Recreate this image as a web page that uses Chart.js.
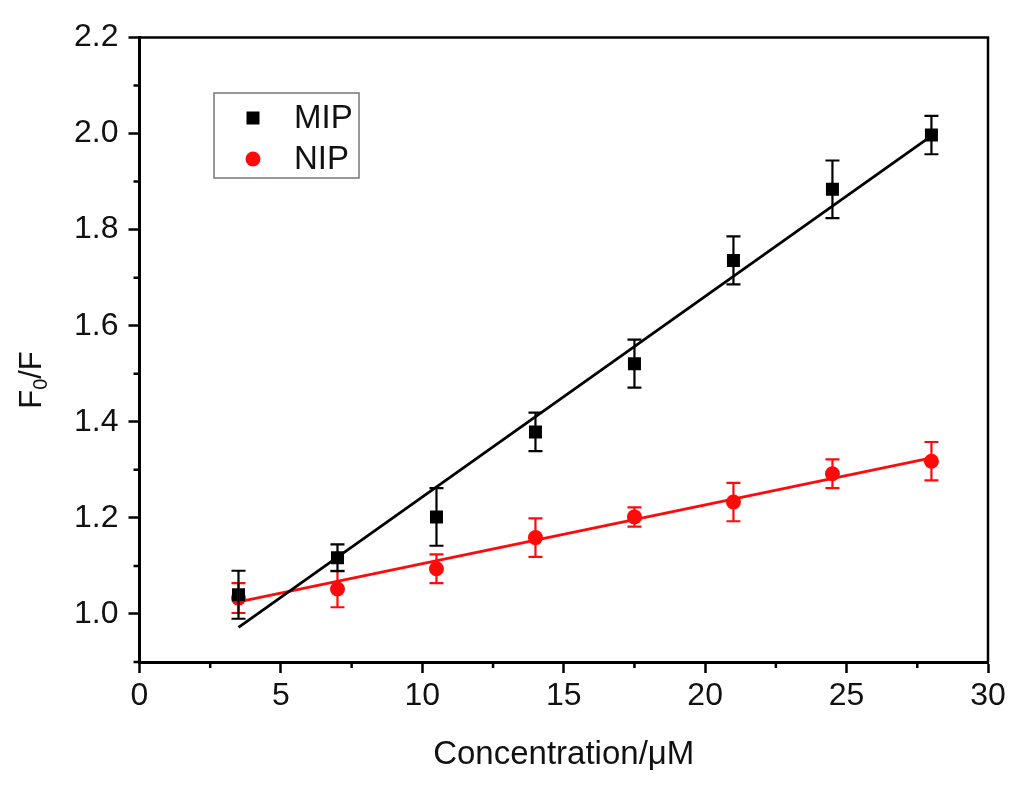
<!DOCTYPE html>
<html>
<head>
<meta charset="utf-8">
<script src="https://cdn.jsdelivr.net/npm/chart.js@4.4.1/dist/chart.umd.min.js"></script>
<style>
  html, body { margin: 0; padding: 0; background: #fff; }
  #wrap { width: 1024px; height: 793px; }
</style>
</head>
<body>
<div id="wrap"><canvas id="chart" width="1024" height="793"></canvas></div>
<script>
// Data
const conc = [3.5, 7, 10.5, 14, 17.5, 21, 24.5, 28];
const mipRatio = [1.04, 1.117, 1.202, 1.379, 1.521, 1.736, 1.884, 1.997];
const mipErr = [0.05, 0.028, 0.06, 0.04, 0.05, 0.05, 0.06, 0.04];
const nipRatio = [1.033, 1.052, 1.094, 1.159, 1.202, 1.233, 1.292, 1.318];
const nipErr = [0.031, 0.038, 0.03, 0.04, 0.02, 0.04, 0.03, 0.04];

// Fitted lines (end points)
const fitX = [3.5, 28];
const mipFit = [0.972, 1.995];
const nipFit = [1.025, 1.325];

// Axis ticks
const xMajor = [0, 5, 10, 15, 20, 25, 30];
const xMinor = [2.5, 7.5, 12.5, 17.5, 22.5, 27.5];
const yMajor = [1.0, 1.2, 1.4, 1.6, 1.8, 2.0, 2.2];
const yMinor = [0.9, 1.1, 1.3, 1.5, 1.7, 1.9, 2.1];

const FONT = 'Liberation Sans, Arial, sans-serif';
const RED = '#ff0a0a';

function toPoints(xs, ys) {
  return xs.map((x, i) => ({ x: x, y: ys[i] }));
}

// Error bars, minor ticks, frame, legend and y title
const extras = {
  id: 'extras',
  afterDatasetsDraw(chart) {
    const ctx = chart.ctx;
    const xs = chart.scales.x;
    const ys = chart.scales.y;

    // error bars
    const bars = [
      { vals: nipRatio, err: nipErr, color: RED },
      { vals: mipRatio, err: mipErr, color: '#000' }
    ];
    ctx.save();
    bars.forEach(b => {
      ctx.strokeStyle = b.color;
      ctx.lineWidth = 2.2;
      conc.forEach((c, i) => {
        const px = xs.getPixelForValue(c);
        const top = ys.getPixelForValue(b.vals[i] + b.err[i]);
        const bot = ys.getPixelForValue(b.vals[i] - b.err[i]);
        ctx.beginPath();
        ctx.moveTo(px, top); ctx.lineTo(px, bot);
        ctx.moveTo(px - 7, top); ctx.lineTo(px + 7, top);
        ctx.moveTo(px - 7, bot); ctx.lineTo(px + 7, bot);
        ctx.stroke();
      });
    });
    ctx.restore();
  },
  afterDraw(chart) {
    const ctx = chart.ctx;
    const xs = chart.scales.x;
    const ys = chart.scales.y;
    const area = chart.chartArea;
    ctx.save();

    // frame (top and right)
    ctx.strokeStyle = '#000';
    ctx.lineWidth = 2.5;
    ctx.beginPath();
    ctx.moveTo(area.left, area.top);
    ctx.lineTo(area.right, area.top);
    ctx.lineTo(area.right, area.bottom);
    ctx.stroke();

    // minor ticks
    ctx.lineWidth = 2.5;
    ctx.beginPath();
    xMinor.forEach(v => {
      const px = xs.getPixelForValue(v);
      ctx.moveTo(px, area.bottom); ctx.lineTo(px, area.bottom + 6);
    });
    yMinor.forEach(v => {
      const py = ys.getPixelForValue(v);
      ctx.moveTo(area.left, py); ctx.lineTo(area.left - 6, py);
    });
    ctx.stroke();

    // legend
    const lx = 214, ly = 93, lw = 145, lh = 85;
    ctx.strokeStyle = '#777';
    ctx.lineWidth = 1.5;
    ctx.strokeRect(lx, ly, lw, lh);
    ctx.fillStyle = '#000';
    ctx.fillRect(253 - 6.5, 118 - 6.5, 13, 13);
    ctx.fillStyle = RED;
    ctx.beginPath();
    ctx.arc(253, 159, 7.5, 0, Math.PI * 2);
    ctx.fill();
    ctx.fillStyle = '#111';
    ctx.font = '33px ' + FONT;
    ctx.textBaseline = 'middle';
    ctx.textAlign = 'left';
    ctx.fillText(chart.data.datasets[0].label, 294, 119);
    ctx.fillText(chart.data.datasets[1].label, 294, 160);

    // y axis title F0/F
    ctx.translate(32, 380);
    ctx.rotate(-Math.PI / 2);
    ctx.textBaseline = 'middle';
    ctx.font = '31px ' + FONT;
    const wF = ctx.measureText('F').width;
    ctx.font = '20px ' + FONT;
    const w0 = ctx.measureText('0').width;
    ctx.font = '31px ' + FONT;
    const wRest = ctx.measureText('/F').width;
    let cx = -(wF + w0 + wRest) / 2;
    ctx.fillText('F', cx, 0);
    cx += wF;
    ctx.font = '20px ' + FONT;
    ctx.fillText('0', cx, 9);
    cx += w0;
    ctx.font = '31px ' + FONT;
    ctx.fillText('/F', cx, 0);
    ctx.restore();
  }
};

new Chart(document.getElementById('chart'), {
  type: 'scatter',
  data: {
    datasets: [
      {
        label: 'MIP',
        data: toPoints(conc, mipRatio),
        pointStyle: 'rect',
        pointRadius: 9.2,
        pointHoverRadius: 9.2,
        backgroundColor: '#000',
        borderColor: '#000',
        borderWidth: 0,
        order: 1
      },
      {
        label: 'NIP',
        data: toPoints(conc, nipRatio),
        pointStyle: 'circle',
        pointRadius: 7.5,
        pointHoverRadius: 7.5,
        backgroundColor: RED,
        borderColor: RED,
        borderWidth: 0,
        order: 2
      },
      {
        type: 'line',
        label: 'MIP fit',
        data: toPoints(fitX, mipFit),
        borderColor: '#000',
        borderWidth: 2.8,
        pointRadius: 0,
        fill: false,
        order: 3
      },
      {
        type: 'line',
        label: 'NIP fit',
        data: toPoints(fitX, nipFit),
        borderColor: RED,
        borderWidth: 2.8,
        pointRadius: 0,
        fill: false,
        order: 4
      }
    ]
  },
  options: {
    responsive: false,
    animation: false,
    devicePixelRatio: 1,
    layout: { padding: { top: 37.5, right: 36, left: 0, bottom: 0 } },
    plugins: {
      legend: { display: false },
      tooltip: { enabled: false }
    },
    scales: {
      x: {
        type: 'linear',
        min: 0,
        max: 30,
        afterFit: scale => { scale.height = 131; },
        afterBuildTicks: scale => { scale.ticks = xMajor.map(v => ({ value: v })); },
        grid: { drawOnChartArea: false, color: '#000', tickLength: 11, tickWidth: 2.5 },
        border: { color: '#000', width: 3 },
        ticks: { color: '#111', font: { family: FONT, size: 32 }, padding: 4, maxRotation: 0 },
        title: {
          display: true,
          text: 'Concentration/μM',
          color: '#111',
          font: { family: FONT, size: 33 },
          padding: { top: 4, bottom: 18 }
        }
      },
      y: {
        type: 'linear',
        min: 0.9,
        max: 2.2,
        afterFit: scale => { scale.width = 139.5; },
        afterBuildTicks: scale => { scale.ticks = yMajor.map(v => ({ value: v })); },
        grid: { drawOnChartArea: false, color: '#000', tickLength: 11, tickWidth: 2.5 },
        border: { color: '#000', width: 3 },
        ticks: {
          color: '#111',
          font: { family: FONT, size: 32 },
          padding: 10,
          callback: v => Number(v).toFixed(1)
        }
      }
    }
  },
  plugins: [extras]
});
</script>
</body>
</html>
